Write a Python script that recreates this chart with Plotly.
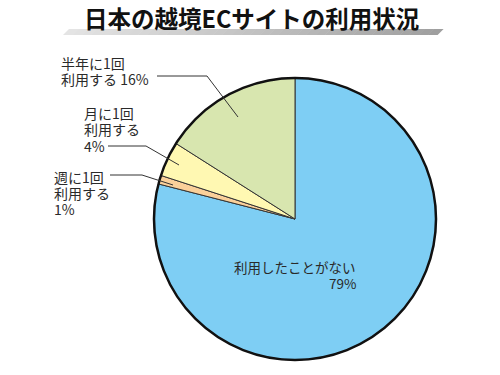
import plotly.graph_objects as go

W, H = 500, 375

# Data
categories = ["利用したことがない", "週に1回利用する", "月に1回利用する", "半年に1回利用する"]
values = [79, 1, 4, 16]
colors = ["#7ECEF4", "#FAD09A", "#FFF8B2", "#D8E6AF"]
label_lines = [
    ["利用したことがない", "79%"],
    ["週に1回", "利用する", "1%"],
    ["月に1回", "利用する", "4%"],
    ["半年に1回", "利用する 16%"],
]
title_text = "日本の越境ECサイトの利用状況"

FONT = "Noto Sans CJK JP"


def px(x):
    return x / W


def py(y):
    return 1 - y / H


cx, cy, r = 295, 219, 141

fig = go.Figure()
fig.add_trace(go.Pie(
    labels=categories,
    values=values,
    sort=False,
    direction="clockwise",
    rotation=0,
    textinfo="none",
    hoverinfo="label+percent",
    marker=dict(colors=colors, line=dict(color="#333333", width=1)),
    domain=dict(x=[px(cx - r), px(cx + r)], y=[py(cy + r), py(cy - r)]),
    showlegend=False,
))

shapes = []
# title bar with gradient (strips)
n = 40
x_left, x_right, slant = 63, 443, 6
y_top, y_bot = 29, 35
for i in range(n):
    t0 = i / n
    t1 = (i + 1) / n
    xa = x_left + (x_right - x_left - slant) * t0
    xb = x_left + (x_right - x_left - slant) * t1
    g = int(228 - 70 * t0)
    col = f"rgb({g},{g},{g})"
    path = (f"M {px(xa)},{py(y_bot)} L {px(xa + slant)},{py(y_top)} "
            f"L {px(xb + slant + 0.6)},{py(y_top)} L {px(xb + 0.6)},{py(y_bot)} Z")
    shapes.append(dict(type="path", path=path, xref="paper", yref="paper",
                       fillcolor=col, line=dict(width=0), layer="below"))

# outer circle border
shapes.append(dict(type="circle", xref="paper", yref="paper",
                   x0=px(cx - r), x1=px(cx + r), y0=py(cy + r), y1=py(cy - r),
                   line=dict(color="#111111", width=2.5), fillcolor="rgba(0,0,0,0)"))

# leader lines
leaders = [
    [(157, 76), (207, 76), (238, 117)],
    [(108, 146), (146, 146), (179, 165)],
    [(110, 175), (142, 175), (173, 185)],
]
for pts in leaders:
    path = "M " + " L ".join(f"{px(x)},{py(y)}" for x, y in pts)
    shapes.append(dict(type="path", path=path, xref="paper", yref="paper",
                       line=dict(color="#333333", width=1)))

annotations = [
    dict(text=title_text, x=px(251), y=py(18), xref="paper", yref="paper",
         xanchor="center", yanchor="middle", showarrow=False,
         font=dict(family=FONT, size=23.5, color="#111111", weight="bold")),
]

label_pos = [
    (358, [267, 283], "right", 13.5),
    (52, [177, 193, 209], "left", 14),
    (82, [113, 129, 146], "left", 14),
    (59, [63, 79], "left", 14),
]
for lines, (x, ys, anchor, size) in zip(label_lines, label_pos):
    for line, y in zip(lines, ys):
        annotations.append(dict(
            text=line, x=px(x), y=py(y), xref="paper", yref="paper",
            xanchor=anchor, yanchor="middle", showarrow=False,
            font=dict(family=FONT, size=size, color="#2a2a2a")))

fig.update_layout(
    width=W, height=H,
    margin=dict(l=0, r=0, t=0, b=0),
    paper_bgcolor="white",
    plot_bgcolor="white",
    shapes=shapes,
    annotations=annotations,
    font=dict(family=FONT),
)

fig.write_html("out.html", config={"displayModeBar": False},
               post_script="document.body.style.margin='0';")
